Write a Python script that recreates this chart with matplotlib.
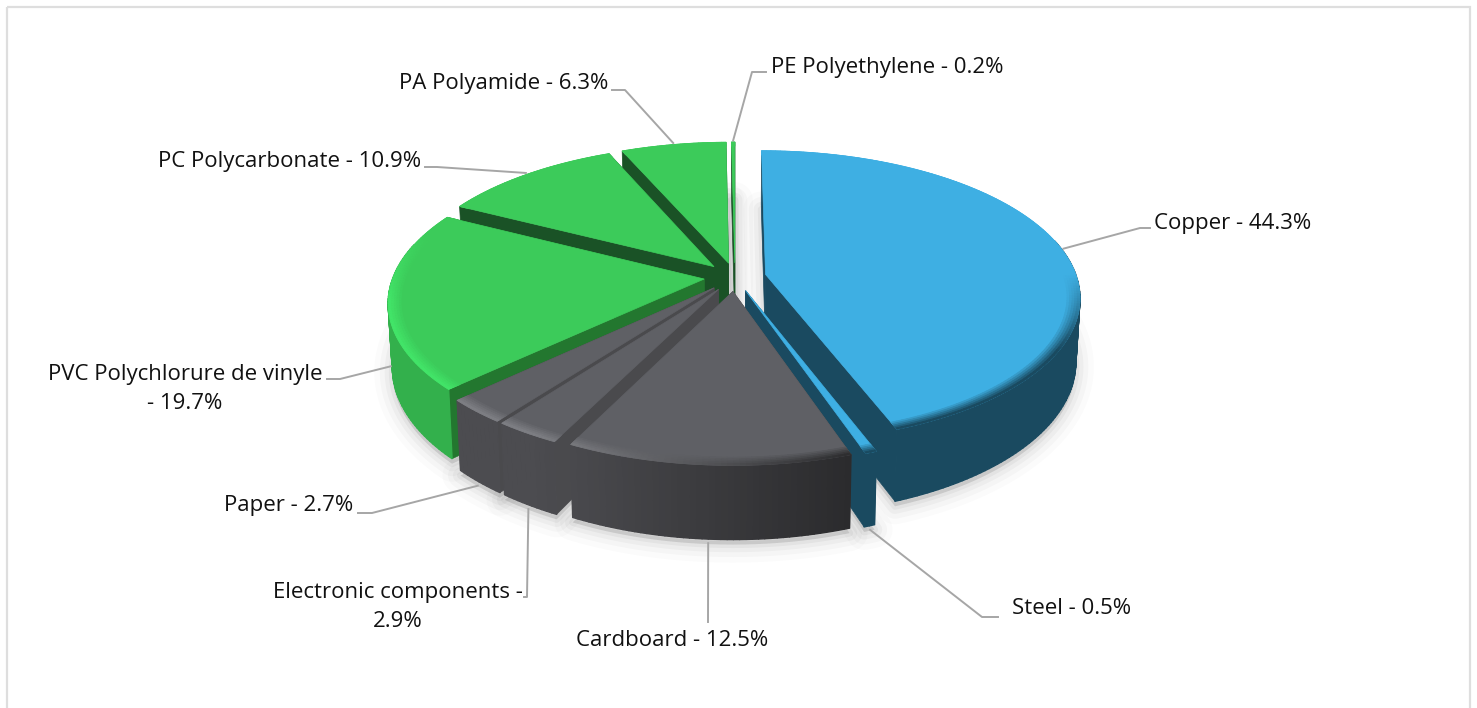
import numpy as np
import matplotlib
matplotlib.use("Agg")
import matplotlib.pyplot as plt
from matplotlib.patches import Polygon, Rectangle
from matplotlib.colors import to_rgb
from matplotlib.collections import PolyCollection

# ---- data ----
categories = ["Copper", "Steel", "Cardboard", "Electronic components", "Paper",
              "PVC Polychlorure de vinyle", "PC Polycarbonate", "PA Polyamide", "PE Polyethylene"]
values = [44.3, 0.5, 12.5, 2.9, 2.7, 19.7, 10.9, 6.3, 0.2]
label_wrap = ["", "", "", "-\n", "", "\n- ", "", "", ""]   # where a label breaks

# ---- style ----
families = ["blue", "blue", "gray", "gray", "gray", "green", "green", "green", "green"]
style = {
    "blue":  dict(top="#3eafe3", wall="#1a4a60", side_l="#1a4a60", side_r="#1a4a60", bev_l="#1a4a60", bev_r="#1a4a60", start=0.0),
    "gray":  dict(top="#5f6065", wall="#4a4a4d", side_l="#4c4c50", side_r="#2a2a2c", bev_l="#7d7e83", bev_r="#2a2a2c", start=0.35),
    "green": dict(top="#3ccb5a", wall="#1a5226", side_l="#33b04c", side_r="#2a9a42", bev_l="#42e468", bev_r="#2fa84a", start=0.35),
}
wall_over = {5: "#23772f"}  # PVC's lower wall is lit

# label layout: text anchor (px), alignment, knee of leader (px), end of leader (px)
label_xy = [(1154, 223, "left"), (1012, 609, "left"), (672, 641, "center"), (398, 607, "center"),
            (353, 506, "right"), (185, 389, "center"), (421, 161, "right"), (608, 84, "right"), (771, 67, "left")]
leader_knee = [(1140, 228), (982, 617), (708, 622), (527, 597), (372, 513), (340, 379),
               (437, 167), (625, 90), (752, 72)]
leader_end = [(1150, 228), (998, 617), (708, 622), (524, 597), (358, 513), (327, 379),
              (425, 167), (612, 90), (766, 72)]

# projection parameters
Cx, Cy, A, B, k, H, zshrink, expl = 735.0, 277.0, 311.0, 143.0, 0.15, 62.0, 0.012, 0.10


def proj(X, Y, z=0.0):
    X, Y = np.asarray(X, float), np.asarray(Y, float)
    s = 1.0 / (1.0 + k * Y)
    return Cx + A * X * s * (1 - zshrink * z), Cy - B * Y * s + H * z * s


def pts(X, Y, z=0.0):
    x, y = proj(X, Y, z)
    return np.column_stack([x, y])


def mix(c1, c2, t):
    a, b = np.array(to_rgb(c1)), np.array(to_rgb(c2))
    return tuple(a + (b - a) * float(np.clip(t, 0, 1)))


fig = plt.figure(figsize=(14.77, 7.08), dpi=100)
ax = fig.add_axes([0, 0, 1, 1])
ax.set_xlim(0, 1477)
ax.set_ylim(708, 0)
ax.axis("off")
ax.add_patch(Rectangle((6.5, 6.5), 1463.5, 760, fill=False, ec="#dedede", lw=1.6, zorder=0))

pct = np.array(values) / np.sum(values)
edges = np.concatenate([[0], np.cumsum(pct)]) * 2 * np.pi
mids = (edges[:-1] + edges[1:]) / 2

# ground shadow
for th0, th1, m in zip(edges[:-1], edges[1:], mids):
    th = np.linspace(th0, th1, max(3, int(np.degrees(th1 - th0)) + 2))
    ox, oy = expl * np.sin(m), expl * np.cos(m)
    X = np.r_[ox, ox + np.sin(th)]
    Y = np.r_[oy, oy + np.cos(th)]
    P = pts(X, Y, 1.0) + np.array([0, 5])
    for lw, al in [(26, 0.016), (18, 0.024), (11, 0.032), (5, 0.04)]:
        ax.add_patch(Polygon(P, closed=True, fc=(0, 0, 0, al), ec=(0, 0, 0, al), lw=lw,
                             joinstyle="round", zorder=1))

# slices back to front
order = np.argsort(-np.cos(mids))
zo = 2
for i in order:
    th0, th1, m = edges[i], edges[i + 1], mids[i]
    st = style[families[i]]
    th = np.linspace(th0, th1, max(3, int(np.degrees(th1 - th0)) + 2))
    ox, oy = expl * np.sin(m), expl * np.cos(m)
    ax_X, ax_Y = ox + np.sin(th), oy + np.cos(th)

    # radial walls
    wcol = wall_over.get(i, st["wall"])
    for e in (0, -1):
        X = np.array([ox, ax_X[e]])
        Y = np.array([oy, ax_Y[e]])
        quad = np.vstack([pts(X, Y, 0), pts(X, Y, 1)[::-1]])
        ax.add_patch(Polygon(quad, closed=True, fc=wcol, ec=wcol, lw=0.5, zorder=zo))
    zo += 1

    # outer rim side (only the part that faces the viewer)
    quads, cols = [], []
    for j in range(len(th) - 1):
        if np.cos(th[j:j + 2]).mean() > 0.25:
            continue
        X = ax_X[j:j + 2]
        Y = ax_Y[j:j + 2]
        quads.append(np.vstack([pts(X, Y, 0), pts(X, Y, 1)[::-1]]))
        cols.append(mix(st["side_l"], st["side_r"], (np.sin(th[j]) + 0.5) / 0.85))
    if quads:
        ax.add_collection(PolyCollection(quads, facecolors=cols, edgecolors=cols, linewidths=1.0, zorder=zo))
    zo += 1

    # top face
    top = pts(np.r_[ox, ax_X], np.r_[oy, ax_Y], 0)
    ax.add_patch(Polygon(top, closed=True, fc=st["top"], ec=st["top"], lw=0.5, zorder=zo))
    zo += 1

    # bevel along the rim
    quads, cols = [], []
    layers = np.linspace(0.96, 1.0, 6)
    for a in range(len(layers) - 1):
        r0, r1 = layers[a], layers[a + 1]
        t = (a + 1) / (len(layers) - 1)
        for j in range(len(th) - 1):
            s0, c0 = np.sin(th[j:j + 2]), np.cos(th[j:j + 2])
            inner = pts(ox + r0 * s0, oy + r0 * c0, 0)
            outer = pts(ox + r1 * s0, oy + r1 * c0, 0)
            quads.append(np.vstack([inner, outer[::-1]]))
            front = np.clip(st["start"] - c0.mean(), 0, 0.5) * 2
            bevel = mix(st["bev_l"], st["bev_r"], (s0.mean() + 0.5) / 0.85)
            cols.append(mix(st["top"], bevel, t * front))
    ax.add_collection(PolyCollection(quads, facecolors=cols, edgecolors=cols, linewidths=0.6, zorder=zo))
    zo += 1

# labels and leaders
for i, name in enumerate(categories):
    m = mids[i]
    ox, oy = expl * np.sin(m), expl * np.cos(m)
    z = 1.0 if np.cos(m) < 0 else 0.0
    sx, sy = proj(ox + 1.005 * np.sin(m), oy + 1.005 * np.cos(m), z)
    sy += 3 if z else -1
    kx, ky = leader_knee[i]
    ex, ey = leader_end[i]
    ax.plot([sx, kx, ex], [sy, ky, ey], color="#a6a6a6", lw=1.4, zorder=200, solid_joinstyle="round")
    wrap = label_wrap[i]
    if wrap == "-\n":
        text = f"{name} -\n{values[i]}%"
    elif wrap == "\n- ":
        text = f"{name}\n- {values[i]}%"
    else:
        text = f"{name} - {values[i]}%"
    lx, ly, ha = label_xy[i]
    ax.text(lx, ly, text, ha=ha, va="center", multialignment="center", fontsize=16,
            family="Open Sans", color="#111111", linespacing=1.45, zorder=201)

fig.savefig("out.png", dpi=100, facecolor="white")
